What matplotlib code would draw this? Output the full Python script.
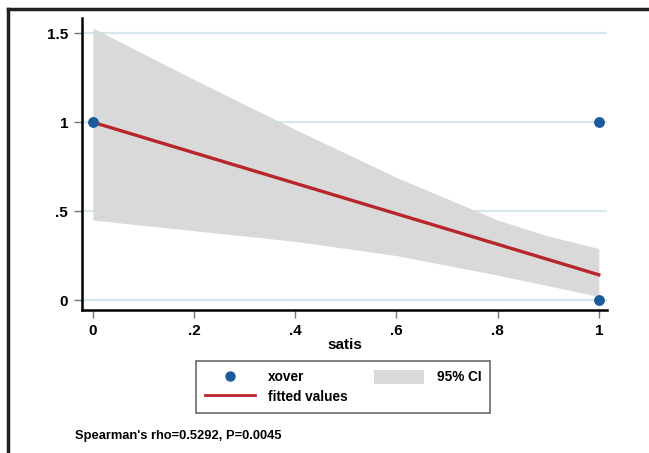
import numpy as np
import matplotlib.pyplot as plt
from matplotlib.lines import Line2D
from matplotlib.patches import Patch

plt.rcParams['font.family'] = ['Liberation Sans', 'DejaVu Sans']
plt.rcParams['font.weight'] = 'bold'

# observed xover vs satis
satis = [0, 1, 1]
xover = [1, 1, 0]

# linear fit and its 95% CI band
fit_x = [0, 1]
fit_y = [1.0, 0.142]
ci_x = [0, 0.2, 0.4, 0.6, 0.8, 0.9, 1.0]
ci_hi = [1.53, 1.24, 0.96, 0.69, 0.45, 0.36, 0.29]
ci_lo = [0.45, 0.39, 0.33, 0.25, 0.14, 0.08, 0.02]

xticks = [0, 0.2, 0.4, 0.6, 0.8, 1]
xlabels = ['0', '.2', '.4', '.6', '.8', '1']
yticks = [0, 0.5, 1, 1.5]
ylabels = ['0', '.5', '1', '1.5']

fig = plt.figure(figsize=(6.49, 4.53), dpi=100)
ax = fig.add_axes([0.1263, 0.3157, 0.8087, 0.6443])

for y in yticks:
    ax.axhline(y, color='#d5e8ee', lw=1.6, zorder=0)

ax.fill_between(ci_x, ci_lo, ci_hi, color='#d9d9d9', lw=0, zorder=1)
ax.plot(fit_x, fit_y, color='#b8262c', lw=2.4, zorder=3)
ax.scatter(satis, xover, s=46, color='#1c5a9c', zorder=4, clip_on=False)

ax.set_xlim(-0.0217, 1.0158)
ax.set_ylim(-0.056, 1.586)
ax.set_xticks(xticks)
ax.set_xticklabels(xlabels)
ax.set_yticks(yticks)
ax.set_yticklabels(ylabels)
ax.tick_params(axis='both', direction='out', length=6, width=1, color='#777777',
               labelsize=11, pad=4)
ax.tick_params(axis='x', pad=4)
for s in ['top', 'right']:
    ax.spines[s].set_visible(False)
for s in ['left', 'bottom']:
    ax.spines[s].set_linewidth(1.8)
ax.set_xlabel('satis', fontsize=11, fontweight='bold', labelpad=0)

# column-first fill: xover / fitted values on the left, CI on the right
handles = [Line2D([], [], marker='o', ls='none', color='#1c5a9c', markersize=6.5),
           Line2D([], [], color='#b8262c', lw=2),
           Patch(facecolor='#d9d9d9', edgecolor='none')]
labels = ['xover', 'fitted values', '95% CI']
leg = fig.legend(handles, labels, ncol=2, loc='upper left',
                 bbox_to_anchor=(196 / 649, 1 - 361 / 453), fontsize=9.8,
                 frameon=True, fancybox=False, edgecolor='#444444',
                 handlelength=3.7, handleheight=1.2, handletextpad=0.95,
                 columnspacing=1.9, labelspacing=0.35, borderpad=0.65,
                 borderaxespad=0)
leg.get_frame().set_linewidth(1.2)

fig.text(75 / 649, 1 - 436 / 453, "Spearman's rho=0.5292, P=0.0045",
         fontsize=9.3, fontweight='bold', va='center', ha='left')

# outer frame, top and left edges
fig.add_artist(Line2D([8 / 649, 1], [1 - 9 / 453, 1 - 9 / 453], color='#222222', lw=2.5))
fig.add_artist(Line2D([8 / 649, 8 / 649], [0, 1 - 9 / 453], color='#222222', lw=2.5))

fig.savefig('out.png', dpi=100)
